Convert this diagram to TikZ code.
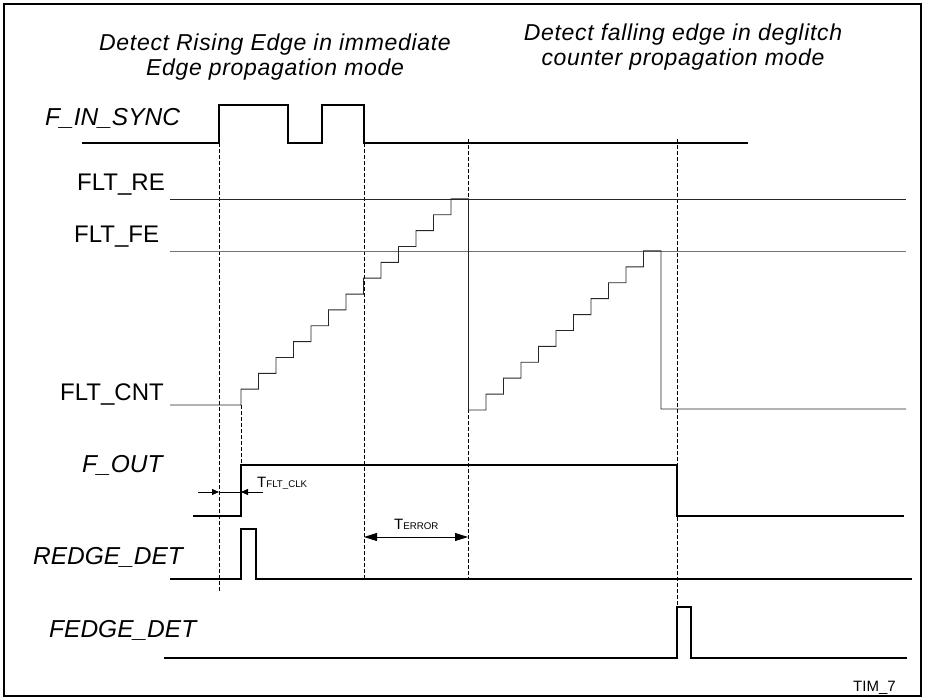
\documentclass[tikz,border=0pt]{standalone}
\usepackage{fontspec}
\setmainfont{Liberation Sans}
\newfontfamily\titlefont[LetterSpace=3.0]{Liberation Sans}
\usetikzlibrary{arrows.meta}
\tikzset{
  wave/.style={line width=2.2pt,line join=miter},
  thinline/.style={line width=0.9pt,draw=black!85},
  guide/.style={line width=0.9pt,dash pattern=on 4pt off 2pt},
  siglabel/.style={font=\fontsize{24}{26}\selectfont,inner sep=0pt,anchor=base west},
  italabel/.style={siglabel,font=\fontsize{24.5}{26}\selectfont\itshape},
  headline/.style={font=\titlefont\fontsize{23}{25}\selectfont\itshape,align=center,inner sep=0pt,anchor=north},
  dimarrow/.style={line width=0.8pt},
  smalltip/.style={-{Triangle[length=7pt,width=6pt]}},
  bigtip/.style={{Triangle[length=13pt,width=8pt]}-{Triangle[length=13pt,width=8pt]}},
}
\newcommand{\tsub}[2]{{\fontsize{15}{15}\selectfont #1}{\fontsize{9.7}{10}\selectfont #2}}

\begin{document}
\begin{tikzpicture}[x=1pt,y=-1pt]
\useasboundingbox (0,0) rectangle (925,700);
\draw[line width=1.4pt] (4,4) rectangle (921,696);

% titles
\node[headline] (rise) at (275,34) {Detect Rising Edge in immediate\\Edge propagation mode};
\node[headline] (fall) at (683,24) {Detect falling edge in deglitch\\counter propagation mode};

% signal names
\node[italabel] (lfin) at (45,126) {F\_IN\_SYNC};
\node[siglabel] (lre)  at (77,191) {FLT\_RE};
\node[siglabel] (lfe)  at (74,243) {FLT\_FE};
\node[siglabel] (lcnt) at (60,400) {FLT\_CNT};
\node[italabel] (lout) at (82,472) {F\_OUT};
\node[italabel] (lred) at (33,564) {REDGE\_DET};
\node[italabel] (lfed) at (49,637) {FEDGE\_DET};

% dashed markers
\draw[guide] (219,143) -- (219,592);
\draw[guide] (364,143) -- (364,579);
\draw[guide] (468,139) -- (468,579);
\draw[guide] (677,139) -- (677,607);
\draw[guide] (241,405) -- (241,465);

% thresholds
\draw[thinline] (170,199) -- (906,199);
\draw[thinline,draw=black!55] (170,251) -- (906,251);

% counter
\draw[thinline] (170,405) -- (241,405)
  foreach \k in {1,...,13} { -- ++(0,-15.85) -- ++(17.5,0) }
  -- ++(0,211)
  foreach \k in {1,...,10} { -- ++(17.5,0) -- ++(0,-15.9) }
  -- ++(17.5,0) -- ++(0,158) -- (906,409);

% waveforms
\draw[wave] (82,143) -- (219,143) -- (219,105) -- (288,105) -- (288,143) -- (322,143) -- (322,105) -- (364,105) -- (364,143) -- (748,143);
\draw[wave] (193,516) -- (241,516) -- (241,465) -- (677,465) -- (677,516) -- (904,516);
\draw[wave] (170,579) -- (241,579) -- (241,529) -- (256,529) -- (256,579) -- (912,579);
\draw[wave] (164,658) -- (677,658) -- (677,607) -- (691,607) -- (691,658) -- (907,658);

% timing
\coordinate (c1) at (219,492);
\coordinate (c2) at (241,492);
\coordinate (e1) at (364,537);
\coordinate (e2) at (468,537);
\draw[dimarrow,smalltip] ([xshift=-21pt]c1) -- (c1);
\draw[dimarrow] (c1) -- (c2);
\draw[dimarrow,smalltip] ([xshift=22pt]c2) -- (c2);
\node[inner sep=0pt,anchor=base west] (tclk) at (257,487) {\tsub{T}{FLT\_CLK}};
\draw[dimarrow,bigtip] (e1) -- (e2);
\node[inner sep=0pt,anchor=base west] (terr) at (394,529) {\tsub{T}{ERROR}};

\node[inner sep=0pt,anchor=base west,font=\fontsize{15}{15}\selectfont] (tag) at (853,691) {TIM\_7};
\end{tikzpicture}
\end{document}
